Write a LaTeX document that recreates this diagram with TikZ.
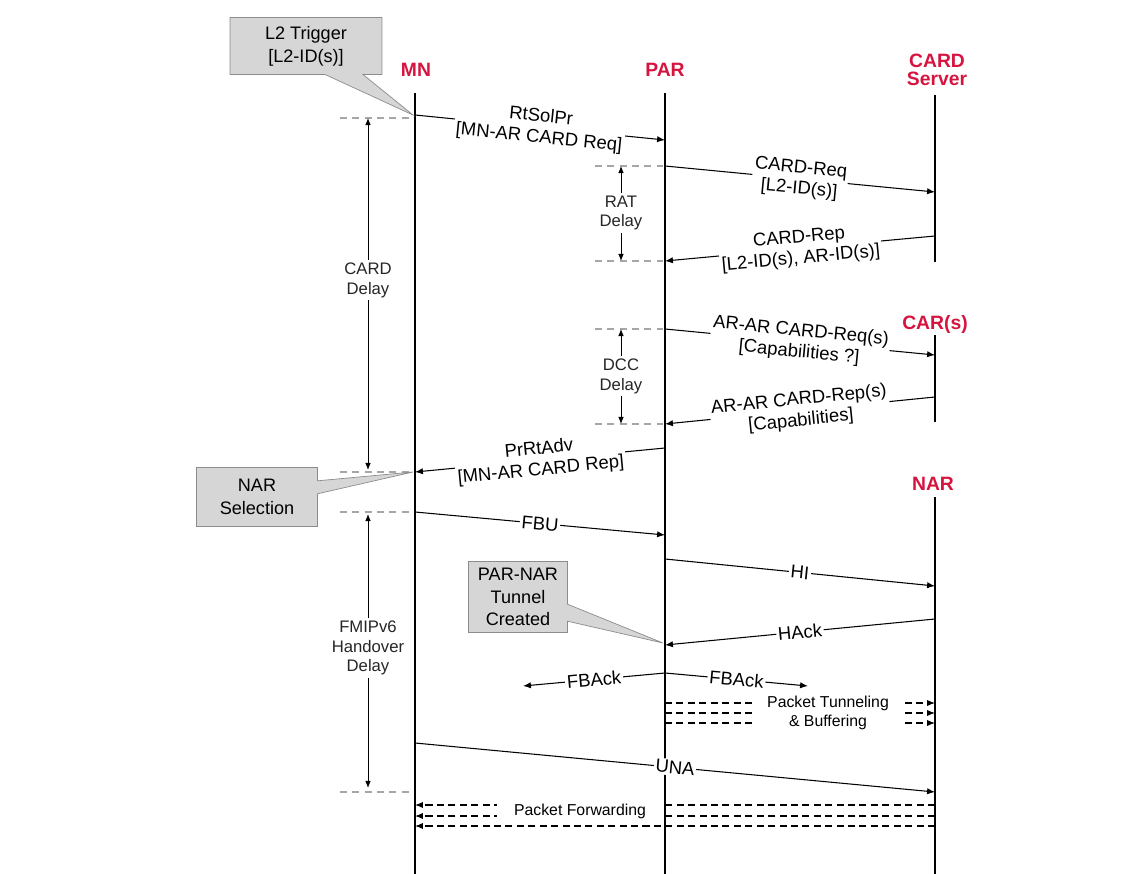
\documentclass[tikz,border=0pt]{standalone}
\usepackage{fontspec}
\setmainfont{Liberation Sans}
\usetikzlibrary{arrows.meta,shapes.callouts}
\definecolor{rolered}{RGB}{214,20,64}

\begin{document}
\begin{tikzpicture}[x=0.02cm, y=-0.02cm,
    life/.style={line width=1.6pt},
    msg/.style={line width=0.6pt, -{Latex[length=4.5pt,width=3.6pt]}},
    pkt/.style={line width=0.7pt, dash pattern=on 4pt off 2.5pt, -{Latex[length=4.5pt,width=3.6pt]}},
    lbl/.style={midway, sloped, fill=white, inner sep=1pt, align=center, font=\fontsize{10.5}{12}\selectfont},
    actor/.style={text=rolered, font=\fontsize{11}{10}\selectfont\bfseries, align=center, inner sep=1pt},
    guideline/.style={black!35, line width=0.6pt, dash pattern=on 4pt off 3pt},
    dly/.style={line width=0.5pt, -{Latex[length=4pt,width=3.2pt]}},
    delay/.style={fill=white, inner sep=1.5pt, align=center, font=\fontsize{9.5}{11.3}\selectfont, text=black!85},
    note/.style={rectangle callout, draw=black!45, fill=black!16, align=center, inner sep=2pt, font=\fontsize{10.3}{13}\selectfont},
    pktlbl/.style={fill=white, inner ysep=1pt, align=center, font=\fontsize{9}{10.5}\selectfont}
  ]
  \useasboundingbox (0,0) rectangle (1145,874);

  % actors and lifelines
  \node[actor] (mn) at (416,70) {MN};
  \node[actor] (par) at (665,70) {PAR};
  \node[actor] (cs) at (937,70) {CARD\\Server};
  \node[actor] (cars) at (935,325) {CAR(s)};
  \node[actor] (nar) at (933,484) {NAR};

  \coordinate (mnT) at (415,93);  \coordinate (mnB) at (415,874);
  \coordinate (parT) at (665,93); \coordinate (parB) at (665,874);
  \coordinate (csT) at (935,95);  \coordinate (csB) at (935,262);
  \coordinate (carT) at (935,335); \coordinate (carB) at (935,422);
  \coordinate (narT) at (935,497); \coordinate (narB) at (935,874);
  \draw[life] (mnT) -- (mnB);
  \draw[life] (parT) -- (parB);
  \draw[life] (csT) -- (csB);
  \draw[life] (carT) -- (carB);
  \draw[life] (narT) -- (narB);

  % guide marks
  \foreach \y in {118,472,512,792}
    \draw[guideline] (340,\y) -- (413,\y);
  \foreach \y in {166,261,329,424}
    \draw[guideline] (595,\y) -- (663,\y);

  % messages
  \coordinate (rsA) at (415,115); \coordinate (rsB) at (665,140);
  \draw[msg] (rsA) -- node[lbl] {RtSolPr\\{[MN-AR CARD Req]}} (rsB);
  \coordinate (crqA) at (665,166); \coordinate (crqB) at (935,192);
  \draw[msg] (crqA) -- node[lbl] {CARD-Req\\{[L2-ID(s)]}} (crqB);
  \coordinate (crpA) at (935,236); \coordinate (crpB) at (665,261);
  \draw[msg] (crpA) -- node[lbl] {CARD-Rep\\{[L2-ID(s), AR-ID(s)]}} (crpB);
  \coordinate (arqA) at (665,329); \coordinate (arqB) at (935,355);
  \draw[msg] (arqA) -- node[lbl] {AR-AR CARD-Req(s)\\{[Capabilities ?]}} (arqB);
  \coordinate (arpA) at (935,397); \coordinate (arpB) at (665,424);
  \draw[msg] (arpA) -- node[lbl] {AR-AR CARD-Rep(s)\\{[Capabilities]}} (arpB);
  \coordinate (advA) at (665,448); \coordinate (advB) at (415,472);
  \draw[msg] (advA) -- node[lbl] {PrRtAdv\\{[MN-AR CARD Rep]}} (advB);
  \coordinate (fbuA) at (415,512); \coordinate (fbuB) at (665,535);
  \draw[msg] (fbuA) -- node[lbl] {FBU} (fbuB);
  \coordinate (hiA) at (665,559); \coordinate (hiB) at (935,586);
  \draw[msg] (hiA) -- node[lbl] {HI} (hiB);
  \coordinate (hakA) at (935,619); \coordinate (hakB) at (665,645);
  \draw[msg] (hakA) -- node[lbl] {HAck} (hakB);
  \coordinate (fbA) at (665,673);
  \coordinate (fbL) at (523,686); \coordinate (fbR) at (808,686);
  \draw[msg] (fbA) -- node[lbl] {FBAck} (fbL);
  \draw[msg] (fbA) -- node[lbl] {FBAck} (fbR);
  \coordinate (unaA) at (415,743); \coordinate (unaB) at (935,792);
  \draw[msg] (unaA) -- node[lbl] {UNA} (unaB);

  % packet flows
  \foreach \y in {703,713,723}
    \draw[pkt] (parT |- 0,\y) -- (narT |- 0,\y);
  \node[pktlbl, inner xsep=7pt] (tunl) at (828,713) {Packet Tunneling\\\& Buffering};
  \foreach \y in {805,816,826}
    \draw[pkt] (narT |- 0,\y) -- (mnT |- 0,\y);
  \node[pktlbl, inner xsep=10pt] (fwd) at (580,811) {Packet Forwarding};

  % delays
  \coordinate (cdT) at (368,118); \coordinate (cdB) at (368,470);
  \node[delay] (cardd) at (368,280) {CARD\\Delay};
  \draw[dly] (cardd) -- (cdT);
  \draw[dly] (cardd) -- (cdB);
  \coordinate (rdT) at (621,166); \coordinate (rdB) at (621,261);
  \node[delay] (ratd) at (621,213) {RAT\\Delay};
  \draw[dly] (ratd) -- (rdT);
  \draw[dly] (ratd) -- (rdB);
  \coordinate (ddT) at (621,329); \coordinate (ddB) at (621,424);
  \node[delay] (dccd) at (621,376) {DCC\\Delay};
  \draw[dly] (dccd) -- (ddT);
  \draw[dly] (dccd) -- (ddB);
  \coordinate (fdT) at (368,514); \coordinate (fdB) at (368,788);
  \node[delay] (fmd) at (368,648) {FMIPv6\\Handover\\Delay};
  \draw[dly] (fmd) -- (fdT);
  \draw[dly] (fmd) -- (fdB);

  % callouts
  \coordinate (trigpt) at (413,115);
  \coordinate (selpt) at (413,472);
  \coordinate (tunpt) at (663,643);
  \node[note, minimum width=3.04cm, minimum height=1.14cm,
    callout absolute pointer={(trigpt)}, callout pointer width=0.76cm] (trig) at (306,46) {L2 Trigger\\{[L2-ID(s)]}};
  \node[note, minimum width=2.42cm, minimum height=1.18cm,
    callout absolute pointer={(selpt)}, callout pointer width=0.26cm] (sel) at (257,497) {NAR\\Selection};
  \node[note, minimum width=1.98cm, minimum height=1.42cm,
    callout absolute pointer={(tunpt)}, callout pointer width=0.34cm] (tun) at (518,597) {PAR-NAR\\Tunnel\\Created};
\end{tikzpicture}
\end{document}
